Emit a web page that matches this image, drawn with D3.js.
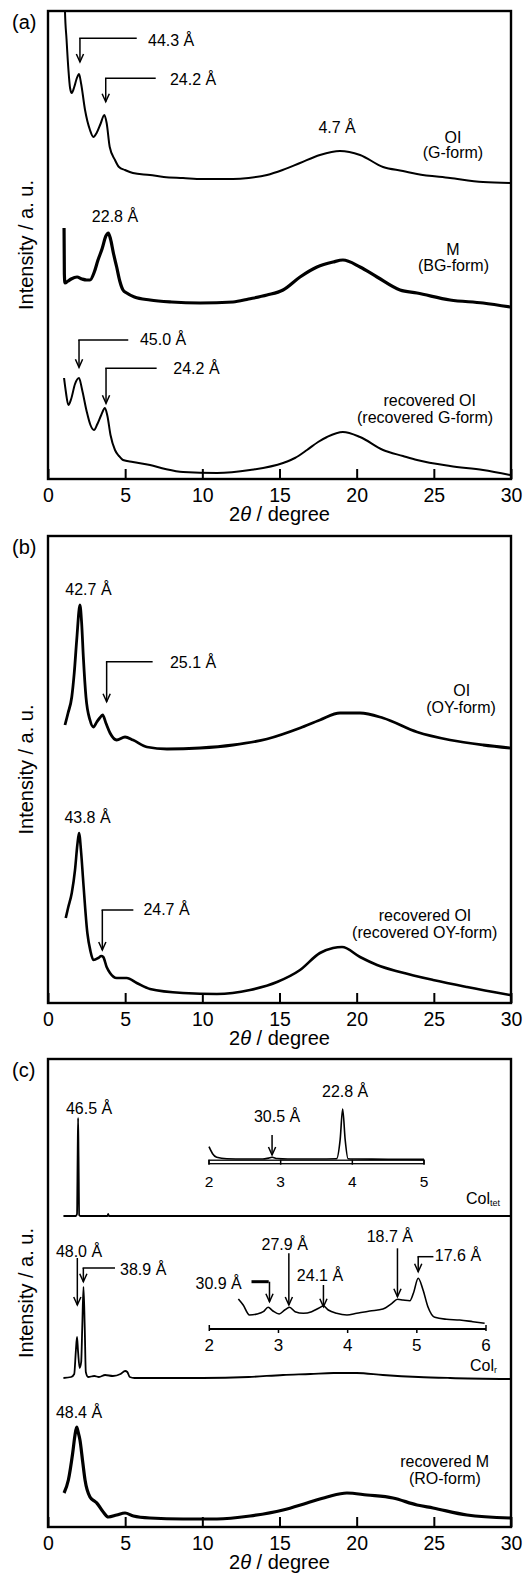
<!DOCTYPE html>
<html><head><meta charset="utf-8">
<script src="https://cdn.jsdelivr.net/npm/d3@7"></script>
<style>
body{margin:0;background:#fff}
text{font-family:"Liberation Sans",Arial,sans-serif;fill:#000}
</style>
</head><body>
<svg id="chart" width="529" height="1576"></svg>
<script>
// ---------- DATA (2θ in degree, intensity in a.u.) ----------
const xTickValues = [0, 5, 10, 15, 20, 25, 30];
const xTickLabels = ["0", "5", "10", "15", "20", "25", "30"];
const insetTetTicks = [2, 3, 4, 5];
const insetRTicks = [2, 3, 4, 5, 6];

// Panel (a)
const aOI_G = [[1.00,560],[1.10,468],[1.20,440],[1.32,410],[1.43,391],[1.54,386],[1.70,392],[1.85,400],[2.01,405],[2.15,395],[2.40,369],[2.72,349],[2.94,342],[3.15,346],[3.40,355],[3.65,364],[3.80,356],[4.00,332],[4.34,319],[4.60,312],[4.99,309],[5.50,306],[6.61,304],[7.50,302],[8.75,301],[10.0,300],[11.99,300],[13.0,301],[14.19,304],[15.2,309],[16.33,316],[17.62,324],[18.92,328],[20.22,324],[21.71,312],[23.0,308],[23.91,305],[26.05,301],[28.19,297],[29.94,296]];
const aM_BG = [[1.04,251],[1.06,205],[1.10,196],[1.30,198],[1.50,200],[1.88,202],[2.20,200],[2.50,199],[2.72,199],[3.00,207],[3.24,219],[3.50,230],[3.75,243],[3.91,246],[4.05,240],[4.25,225],[4.45,212],[4.65,198],[4.86,189],[5.10,186],[5.60,182],[6.61,179],[8.00,177],[9.85,176],[11.99,177],[13.0,180],[14.19,184],[15.23,189],[16.33,202],[17.43,212],[18.47,217],[19.11,219],[20.22,212],[21.32,202],[22.81,189],[23.91,186],[26.05,179],[28.19,176],[29.94,172]];
const aRecOI_G = [[1.04,101],[1.15,88],[1.32,74],[1.50,80],[1.75,95],[2.01,101],[2.20,90],[2.50,68],[2.75,54],[2.98,49],[3.20,55],[3.45,64],[3.69,71],[3.85,63],[4.05,44],[4.34,29],[4.60,23],[4.86,19],[5.50,17],[6.61,14],[7.60,10],[8.75,7],[10.95,6],[13.09,9],[15.23,16],[16.0,21],[16.78,29],[17.5,37],[18.08,42],[19.11,47],[20.22,42],[21.71,29],[23.0,23],[23.91,19],[26.05,13],[28.19,9],[29.94,4]];

// Panel (b)
const bOI_OY = [[1.10,278],[1.30,290],[1.54,306],[1.70,330],[1.86,363],[2.07,398],[2.18,380],[2.29,346],[2.46,306],[2.72,283],[2.94,276],[3.16,281],[3.35,285],[3.54,288],[3.75,280],[4.02,270],[4.45,263],[4.99,266],[5.51,263],[6.41,256],[7.71,254],[9.85,255],[11.99,258],[14.19,264],[16.33,275],[17.62,283],[18.92,290],[20.22,290],[21.71,285],[23.91,271],[26.05,263],[28.19,258],[29.94,255]];
const bRecOI_OY = [[1.15,85],[1.30,95],[1.54,110],[1.75,133],[1.90,158],[2.01,170],[2.15,150],[2.29,120],[2.55,70],[2.75,52],[2.94,43],[3.26,45],[3.45,47],[3.58,46],[3.80,36],[4.02,30],[4.45,25],[5.10,25],[5.75,20],[6.61,14],[8.75,10],[10.95,9],[13.09,13],[14.84,21],[16.33,33],[17.62,50],[18.47,55],[19.05,56],[20.22,46],[21.32,38],[22.81,31],[24.95,23],[27.15,16],[29.94,8]];

// Panel (c)
const cColTet = [[1.00,311],[1.80,311],[1.88,313],[1.92,370],[1.95,409],[1.98,370],[2.02,312],[2.10,311],[3.85,311],[3.90,313],[3.95,311],[10,311],[20,311],[30,311]];
const cColR = [[1.00,149],[1.50,150],[1.70,153],[1.80,175],[1.88,190],[1.95,175],[2.05,159],[2.15,165],[2.22,200],[2.30,240],[2.38,200],[2.45,155],[2.60,150],[3.00,151],[3.30,150],[3.70,152],[4.20,151],[4.70,153],[5.00,156],[5.14,155],[5.30,150],[5.60,149],[7.0,149],[10.0,149],[13.0,150],[15.23,152],[17.0,153],[18.5,154],[20.0,154],[21.7,152],[24.0,150],[26.05,149],[29.94,148]];
const cRecM_RO = [[1.04,34],[1.32,47],[1.60,74],[1.75,92],[1.86,100],[1.95,95],[2.07,87],[2.25,65],[2.40,47],[2.72,30],[3.00,26],[3.16,24],[3.58,15],[3.91,10],[4.45,12],[4.99,14],[5.53,11],[6.61,9],[8.75,8],[10.95,8],[13.09,11],[15.23,17],[16.78,24],[18.08,30],[19.37,34],[20.67,32],[22.35,29],[23.91,22],[24.95,19],[27.15,12],[29.94,9]];

// Insets
const insetTet = [[2.00,15],[2.05,8],[2.107,4.4],[2.25,2.9],[2.50,2.7],[2.75,2.7],[2.83,3.6],[2.88,4.4],[2.95,3.2],[3.10,2.7],[3.50,2.7],[3.78,3],[3.83,22],[3.865,52.7],[3.90,22],[3.94,3],[4.00,2.7],[4.50,2.5],[5.00,2.3]];
const insetR = [[2.42,30],[2.49,24],[2.58,14],[2.69,15],[2.78,17.3],[2.85,21.7],[2.92,18],[3.01,15],[3.09,19],[3.16,21.7],[3.24,17.3],[3.36,15.7],[3.48,17.3],[3.58,20.7],[3.65,23],[3.72,19],[3.84,15.7],[3.99,14],[4.13,15.7],[4.32,18],[4.51,20],[4.64,25.7],[4.72,29.7],[4.80,29],[4.90,28.3],[4.95,35.7],[5.02,50.7],[5.09,39],[5.16,22.3],[5.26,11.7],[5.43,9.7],[5.62,9],[5.81,7.3],[5.98,5.7]];

// ---------- DRAWING ----------
const svg = d3.select("#chart");
const X0 = 48, X1 = 511;
const FONT_ANN = 16;

function arrowHead(g, x, y) {
  g.append("path").attr("d", `M${x-3.6},${y-8} L${x},${y} L${x+3.6},${y-8}`)
    .attr("fill", "none").attr("stroke", "#000").attr("stroke-width", 1.5);
}
function arrow(g, xs, ys, t, hTop, hTip, tEnd, w) {
  const px = xs(t), pTop = ys(hTop), pTip = ys(hTip);
  g.append("path").attr("d", `M${px},${pTop} L${px},${pTip}`).attr("fill","none").attr("stroke","#000").attr("stroke-width",1.5);
  if (tEnd !== undefined && tEnd !== null) {
    g.append("line").attr("x1", px - 0.75).attr("x2", xs(tEnd)).attr("y1", pTop).attr("y2", pTop)
      .attr("stroke","#000").attr("stroke-width", w || 1.5);
  }
  arrowHead(g, px, pTip);
}
function label(g, xs, ys, t, h, txt, anchor, size) {
  return g.append("text").attr("x", xs(t)).attr("y", ys(h)).attr("dy", "0.36em")
    .attr("text-anchor", anchor || "start").attr("font-size", size || FONT_ANN).text(txt);
}
function colLabel(g, xs, ys, t, h, sub) {
  const tx = g.append("text").attr("x", xs(t)).attr("y", ys(h)).attr("dy","0.36em").attr("font-size", 16);
  tx.append("tspan").text("Col");
  tx.append("tspan").attr("font-size", 9).attr("dy", "0.3em").text(sub);
}

function makePanel(cfg) {
  const g = svg.append("g");
  const x = d3.scaleLinear().domain([0, 30]).range([X0, X1]);
  const y = d3.scaleLinear().domain([0, cfg.bottom - cfg.top]).range([cfg.bottom, cfg.top]);
  const id = "clip" + cfg.key;
  svg.append("clipPath").attr("id", id).append("rect")
    .attr("x", X0).attr("y", cfg.top).attr("width", X1 - X0).attr("height", cfg.bottom - cfg.top);
  const line = d3.line().x(d => x(d[0])).y(d => y(d[1])).curve(d3.curveMonotoneX);
  const tg = g.append("g").attr("clip-path", `url(#${id})`);
  cfg.traces.forEach(tr => {
    tg.append("path").datum(tr.data).attr("d", line).attr("fill", "none")
      .attr("stroke", "#000").attr("stroke-width", tr.w).attr("stroke-linejoin","round");
  });
  const ax = g.append("g").attr("transform", `translate(0,${cfg.bottom})`)
    .call(d3.axisBottom(x).tickValues(xTickValues).tickFormat((d,i)=>xTickLabels[i]).tickSize(-10).tickPadding(9));
  ax.select(".domain").remove();
  ax.selectAll(".tick line").attr("stroke","#000").attr("stroke-width", 2);
  ax.selectAll(".tick text").attr("font-size", 19.5).attr("font-family", '"Liberation Sans",Arial,sans-serif').attr("fill","#000");
  g.append("rect").attr("x", X0).attr("y", cfg.top).attr("width", X1 - X0).attr("height", cfg.bottom - cfg.top)
    .attr("fill","none").attr("stroke","#000").attr("stroke-width", 2.4);
  const xt = g.append("text").attr("x", (X0 + X1) / 2).attr("y", cfg.bottom + 42)
    .attr("text-anchor","middle").attr("font-size", 20);
  xt.append("tspan").text("2");
  xt.append("tspan").attr("font-style","italic").text("θ");
  xt.append("tspan").text(" / degree");
  g.append("text").attr("transform", `translate(33,${(cfg.top + cfg.bottom) / 2}) rotate(-90)`)
    .attr("text-anchor","middle").attr("font-size", 20).text("Intensity / a. u.");
  g.append("text").attr("x", 12).attr("y", cfg.top + 18).attr("font-size", 20).text(cfg.label);
  cfg.annot(g, x, y);
  return {g, x, y};
}

makePanel({key:"a", top:11, bottom:479, label:"(a)",
  traces:[{data:aOI_G, w:2}, {data:aM_BG, w:3.2}, {data:aRecOI_G, w:2}],
  annot:(g,x,y)=>{
    arrow(g,x,y,2.07,440.7,417,5.75);
    label(g,x,y,6.48,438.5,"44.3 Å");
    arrow(g,x,y,3.74,400.7,377.3,6.98);
    label(g,x,y,7.90,399.5,"24.2 Å");
    label(g,x,y,18.73,352,"4.7 Å","middle");
    label(g,x,y,26.24,342,"OI","middle");
    label(g,x,y,26.24,326.5,"(G-form)","middle");
    label(g,x,y,4.34,263,"22.8 Å","middle");
    label(g,x,y,26.24,230,"M","middle");
    label(g,x,y,26.27,214,"(BG-form)","middle");
    arrow(g,x,y,2.01,139,111.7,5.20);
    label(g,x,y,5.96,139.5,"45.0 Å");
    arrow(g,x,y,3.76,110.7,75.7,7.04);
    label(g,x,y,8.12,111,"24.2 Å");
    label(g,x,y,24.73,79,"recovered OI","middle");
    label(g,x,y,24.43,62,"(recovered G-form)","middle");
  }});

makePanel({key:"b", top:536, bottom:1003, label:"(b)",
  traces:[{data:bOI_OY, w:2.8}, {data:bRecOI_OY, w:2.6}],
  annot:(g,x,y)=>{
    label(g,x,y,2.62,414,"42.7 Å","middle");
    arrow(g,x,y,3.80,341.3,301.3,6.78);
    label(g,x,y,7.90,340.5,"25.1 Å");
    label(g,x,y,26.81,313,"OI","middle");
    label(g,x,y,26.76,296,"(OY-form)","middle");
    label(g,x,y,2.56,186,"43.8 Å","middle");
    arrow(g,x,y,3.52,93,53,5.53);
    label(g,x,y,6.18,94,"24.7 Å");
    label(g,x,y,24.43,88,"recovered OI","middle");
    label(g,x,y,24.41,70.3,"(recovered OY-form)","middle");
  }});

makePanel({key:"c", top:1059, bottom:1527, label:"(c)",
  traces:[{data:cColTet, w:1.8}, {data:cColR, w:1.8}, {data:cRecM_RO, w:3.2}],
  annot:(g,x,y)=>{
    label(g,x,y,2.66,419,"46.5 Å","middle");
    label(g,x,y,2.01,276,"48.0 Å","middle");
    arrow(g,x,y,1.90,269,222);
    arrow(g,x,y,2.29,259,245.3,4.34);
    label(g,x,y,4.67,258,"38.9 Å");
    label(g,x,y,2.01,114.5,"48.4 Å","middle");
    label(g,x,y,25.70,66,"recovered M","middle");
    label(g,x,y,25.72,49,"(RO-form)","middle");
    colLabel(g,x,y,27.08,329,"tet");
    colLabel(g,x,y,27.34,162,"r");

    // Inset Col_tet
    const ix = d3.scaleLinear().domain([2,5]).range([209,424]);
    const iy = d3.scaleLinear().domain([0,100]).range([1161.7,1061.7]);
    const il = d3.line().x(d=>ix(d[0])).y(d=>iy(d[1])).curve(d3.curveMonotoneX);
    g.append("path").datum(insetTet).attr("d", il).attr("fill","none").attr("stroke","#000").attr("stroke-width",1.6);
    g.append("rect").attr("x", ix(2)).attr("y", iy(0)-1.5).attr("width", ix(5)-ix(2)).attr("height", 3.5)
      .attr("fill","none").attr("stroke","#000").attr("stroke-width",1.3);
    insetTetTicks.forEach(t=>{
      g.append("line").attr("x1",ix(t)).attr("x2",ix(t)).attr("y1",iy(0)-2).attr("y2",iy(0)+3)
        .attr("stroke","#000").attr("stroke-width",1.5);
      g.append("text").attr("x",ix(t)).attr("y",iy(0)+19.5).attr("dy","0.36em").attr("text-anchor","middle")
        .attr("font-size",15.5).text(String(t));
    });
    label(g,ix,iy,3.90,70,"22.8 Å","middle");
    label(g,ix,iy,2.95,45,"30.5 Å","middle");
    arrow(g,ix,iy,2.88,26.7,6.7);

    // Inset Col_r
    const rx = d3.scaleLinear().domain([2,6]).range([209.3,486]);
    const ry = d3.scaleLinear().domain([0,100]).range([1329,1229]);
    const rl = d3.line().x(d=>rx(d[0])).y(d=>ry(d[1])).curve(d3.curveMonotoneX);
    g.append("path").datum(insetR).attr("d", rl).attr("fill","none").attr("stroke","#000").attr("stroke-width",1.6);
    g.append("line").attr("x1",rx(2)).attr("x2",rx(6)).attr("y1",ry(0)).attr("y2",ry(0))
      .attr("stroke","#000").attr("stroke-width",1.8);
    insetRTicks.forEach(t=>{
      const endT = (t===2||t===6);
      g.append("line").attr("x1",rx(t)).attr("x2",rx(t)).attr("y1",ry(0)-(endT?4:0)).attr("y2",ry(0)+(endT?2:4))
        .attr("stroke","#000").attr("stroke-width",1.5);
      g.append("text").attr("x",rx(t)).attr("y",ry(0)+15.5).attr("dy","0.36em").attr("text-anchor","middle")
        .attr("font-size",17).text(String(t));
    });
    label(g,rx,ry,2.47,45.7,"30.9 Å","end");
    arrow(g,rx,ry,2.87,47.3,27.3,2.61,3);
    label(g,rx,ry,3.09,85,"27.9 Å","middle");
    arrow(g,rx,ry,3.15,75.7,24);
    label(g,rx,ry,3.60,54,"24.1 Å","middle");
    arrow(g,rx,ry,3.65,44,22.3);
    label(g,rx,ry,4.61,92.3,"18.7 Å","middle");
    arrow(g,rx,ry,4.72,80.7,32.3);
    label(g,rx,ry,5.26,74,"17.6 Å");
    arrow(g,rx,ry,5.02,72.3,57.3,5.24);
  }});
</script>
</body></html>
